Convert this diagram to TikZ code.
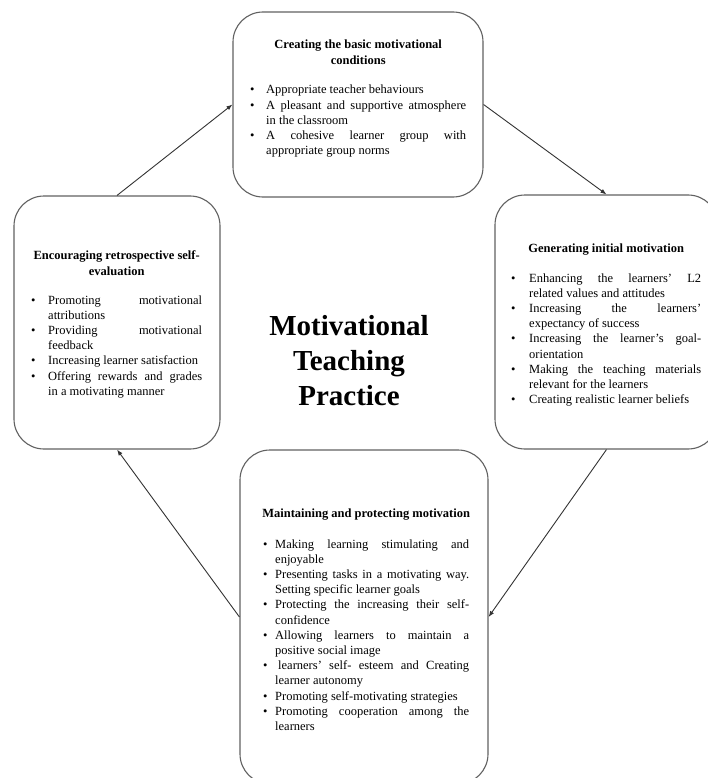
\documentclass[tikz,border=0pt]{standalone}
\usepackage{fontspec}
\setmainfont{Liberation Serif}
\usetikzlibrary{arrows.meta}
\newlength\bind
\newcommand\jl[1]{\makebox[\dimexpr\linewidth-\bind\relax][s]{#1}}
\newcommand\bitem[1]{\par\noindent\hangindent=\bind\hangafter=1\makebox[\bind][l]{\textbullet}#1}
\newcommand\tl[1]{\makebox[\linewidth]{#1}}
\newcommand\bodyfont{\normalfont\fontsize{12.5}{15.2}\selectfont}
\newcommand\titlefont{\normalfont\bfseries\fontsize{12.5}{16}\selectfont}
\begin{document}
\begin{tikzpicture}[x=1pt,y=-1pt,
  card/.style={draw=black!62,line width=1.1pt,rounded corners=30pt,rectangle,inner sep=0pt},
  flow/.style={draw=black!80,line width=0.9pt,-{Latex[length=6pt,width=4.5pt]}},
  txt/.style={inner sep=0pt,anchor=base west,font=\bodyfont},
  big/.style={inner sep=0pt,anchor=base,font=\normalfont\bfseries\fontsize{29}{35}\selectfont}]
\useasboundingbox (0,0) rectangle (707,778);
\fill[white] (0,0) rectangle (707,778);
% boxes
\node[card,minimum width=250pt,minimum height=185pt] (top) at (358,104.5) {};
\node[card,minimum width=206pt,minimum height=253pt] (left) at (117,322.5) {};
\node[card,minimum width=223pt,minimum height=254pt] (right) at (606.5,322) {};
\node[card,minimum width=248pt,minimum height=334pt] (bottom) at (364,617) {};
% connectors
\draw[flow] (left.north) -- (top.west);
\draw[flow] (top.east) -- (right.north);
\draw[flow] (right.south) -- (bottom.east);
\draw[flow] (bottom.west) -- (left.south);
% centre title
\node[big] (centre) at (349,335) {\parbox[t]{240pt}{\centering Motivational\\Teaching\\Practice}};
% top text
\node[txt] (toptext) at (250,49) {\setlength\bind{16pt}\parbox[t]{216pt}{%
\titlefont\tl{Creating the basic motivational}\\\tl{conditions}\par
\bodyfont\vspace{13.8pt}%
\bitem{Appropriate teacher behaviours}%
\bitem{\jl{A pleasant and supportive atmosphere}\\in the classroom}%
\bitem{\jl{A cohesive learner group with}\\appropriate group norms}\par}};
% left text
\node[txt] (lefttext) at (31,259) {\setlength\bind{17pt}\parbox[t]{171pt}{%
\titlefont\tl{Encouraging retrospective self-}\\\tl{evaluation}\par
\bodyfont\vspace{13.8pt}%
\bitem{\jl{Promoting motivational}\\attributions}%
\bitem{\jl{Providing motivational}\\feedback}%
\bitem{Increasing learner satisfaction}%
\bitem{\jl{Offering rewards and grades}\\in a motivating manner}\par}};
% right text
\node[txt] (righttext) at (511,252) {\setlength\bind{18pt}\parbox[t]{190pt}{%
\titlefont\tl{Generating initial motivation}\par
\bodyfont\vspace{14.8pt}%
\bitem{\jl{Enhancing the learners' L2}\\related values and attitudes}%
\bitem{\jl{Increasing the learners'}\\expectancy of success}%
\bitem{\jl{Increasing the learner's goal-}\\orientation}%
\bitem{\jl{Making the teaching materials}\\relevant for the learners}%
\bitem{Creating realistic learner beliefs}\par}};
% bottom text
\node[txt] (bottomtext) at (263,517) {\setlength\bind{12pt}\parbox[t]{206pt}{%
\titlefont\tl{Maintaining and protecting motivation}\par
\bodyfont\vspace{15.8pt}%
\bitem{\jl{Making learning stimulating and}\\enjoyable}%
\bitem{\jl{Presenting tasks in a motivating way.}\\Setting specific learner goals}%
\bitem{\jl{Protecting the increasing their self-}\\confidence}%
\bitem{\jl{Allowing learners to maintain a}\\positive social image}%
\bitem{\jl{\hspace{3pt}learners' self- esteem and Creating}\\learner autonomy}%
\bitem{Promoting self-motivating strategies}%
\bitem{\jl{Promoting cooperation among the}\\learners}\par}};
\end{tikzpicture}
\end{document}
